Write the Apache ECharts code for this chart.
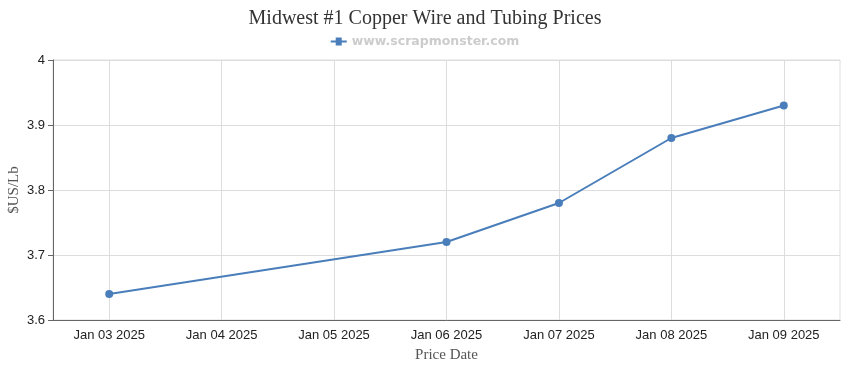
<!DOCTYPE html>
<html><head><meta charset="utf-8">
<script src="https://cdn.jsdelivr.net/npm/echarts@6/dist/echarts.min.js"></script>
<style>html,body{margin:0;padding:0;background:#fff}#c{width:850px;height:370px}</style>
</head><body><div id="c"></div>
<script>
const categories = ['Jan 03 2025','Jan 04 2025','Jan 05 2025','Jan 06 2025','Jan 07 2025','Jan 08 2025','Jan 09 2025'];
const prices = [3.64, null, null, 3.72, 3.78, 3.88, 3.93];
const seriesName = 'www.scrapmonster.com';
const chart = echarts.init(document.getElementById('c'));
chart.setOption({
  animation: false,
  title: { text: 'Midwest #1 Copper Wire and Tubing Prices', left: 'center', top: 4,
    textStyle: { fontFamily: 'Liberation Serif, Times New Roman, serif', fontWeight: 'normal', fontSize: 20, color: '#333' } },
  legend: { top: 30, left: 'center', itemWidth: 16, itemHeight: 8, itemGap: 4,
    textStyle: { fontFamily: 'DejaVu Sans, Verdana, sans-serif', fontWeight: 'bold', fontSize: 12.5, color: '#ccc' },
    data: [{ name: seriesName, icon: 'path://M0,3 L5,3 L5,0 L11,0 L11,3 L16,3 L16,5 L11,5 L11,8 L5,8 L5,5 L0,5 Z' }] },
  grid: { left: 53, right: 10, top: 60, bottom: 50, show: true, borderColor: '#ddd', borderWidth: 1,
    containLabel: false, outerBoundsMode: 'none' },
  xAxis: { type: 'category', data: categories, boundaryGap: true,
    name: 'Price Date', nameLocation: 'middle', nameGap: 28,
    nameTextStyle: { fontFamily: 'Liberation Serif, Times New Roman, serif', fontSize: 15, color: '#555' },
    axisLine: { lineStyle: { color: '#666' } },
    axisTick: { alignWithLabel: true, length: 5, lineStyle: { color: '#666' } },
    splitLine: { show: true, alignWithLabel: true, lineStyle: { color: '#ddd' } },
    axisLabel: { fontFamily: 'Liberation Sans, Arial, sans-serif', fontSize: 13, color: '#222', margin: 9, interval: 0 } },
  yAxis: { type: 'value', min: 3.6, max: 4, interval: 0.1,
    name: '$US/Lb', nameLocation: 'middle', nameGap: 31, nameRotate: 90, nameMoveOverlap: false,
    nameTextStyle: { fontFamily: 'Liberation Serif, Times New Roman, serif', fontSize: 15, color: '#555' },
    axisLine: { show: true, lineStyle: { color: '#666' } },
    axisTick: { show: true, length: 5, lineStyle: { color: '#666' } },
    splitLine: { lineStyle: { color: '#ddd' } },
    axisLabel: { fontFamily: 'Liberation Sans, Arial, sans-serif', fontSize: 13, color: '#222', margin: 8 } },
  series: [{ name: seriesName, type: 'line', data: prices, connectNulls: true,
    symbol: 'circle', symbolSize: 8,
    itemStyle: { color: '#4a7ebb' }, lineStyle: { color: '#4a7ebb', width: 2 } }]
});
</script></body></html>
